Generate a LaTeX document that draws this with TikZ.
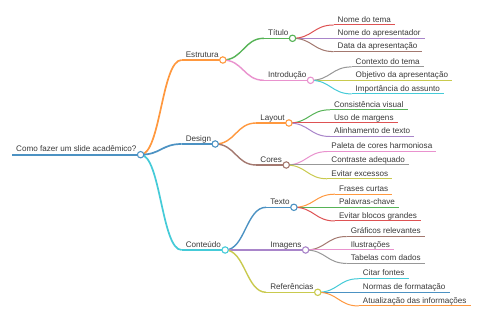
\documentclass[tikz,border=0pt]{standalone}
\usepackage{fontspec}
\setmainfont{Liberation Sans}
\usetikzlibrary{calc}
\definecolor{k0}{HTML}{1F77B4}
\definecolor{k1}{HTML}{FF7F0E}
\definecolor{k2}{HTML}{2CA02C}
\definecolor{k3}{HTML}{D62728}
\definecolor{k4}{HTML}{9467BD}
\definecolor{k5}{HTML}{8C564B}
\definecolor{k6}{HTML}{E377C2}
\definecolor{k7}{HTML}{7F7F7F}
\definecolor{k8}{HTML}{BCBD22}
\definecolor{k9}{HTML}{17BECF}
\definecolor{txt}{HTML}{3A3A3A}
\tikzset{
  lbl/.style={inner xsep=4pt, inner ysep=1pt, text=txt, font=\fontsize{8.1}{9}\selectfont, anchor=base west},
  dot/.style={circle, draw=#1!80!white, fill=white, line width=1.1pt, minimum size=6.4pt, inner sep=0pt},
}
\newcommand{\mmchild}[6]{%
  \node[lbl] (#1) at ($(#2-r)+(41,{#3-2.7})$) {#6};
  \coordinate (#1-l) at ([yshift=-2.7pt]#1.base west);
  \coordinate (#1-r) at ([yshift=-2.7pt]#1.base east);
  \draw[#4!80!white, line width=#5] (#1-l) -- (#1-r);
  \draw[#4!80!white, line width=#5] (#2-r) .. controls +(20,0) and +(-20,0) .. (#1-l);
}
\begin{document}
\begin{tikzpicture}[x=1pt,y=-1pt]
\fill[white] (0,0) rectangle (480,320);
\useasboundingbox (0,0) rectangle (480,320);
% root
\node[lbl] (root) at (12,152) {Como fazer um slide acadêmico?};
\coordinate (root-l) at ([yshift=-2.7pt]root.base west);
\coordinate (root-r) at ([yshift=-2.7pt]root.base east);
\draw[k0!80!white, line width=2pt] (root-l) -- (root-r);
% level 1
\mmchild{est}{root}{-94.7}{k1}{1.7pt}{Estrutura}
\mmchild{des}{root}{-10.7}{k0}{1.7pt}{Design}
\mmchild{con}{root}{95.3}{k9}{1.7pt}{Conteúdo}
% level 2
\mmchild{tit}{est}{-21.7}{k2}{1.4pt}{Título}
\mmchild{int}{est}{20.3}{k6}{1.4pt}{Introdução}
\mmchild{lay}{des}{-21}{k1}{1.4pt}{Layout}
\mmchild{cor}{des}{21}{k5}{1.4pt}{Cores}
\mmchild{tex}{con}{-42.7}{k0}{1.4pt}{Texto}
\mmchild{ima}{con}{0}{k4}{1.4pt}{Imagens}
\mmchild{ref}{con}{42.3}{k8}{1.4pt}{Referências}
% leaves
\mmchild{t1}{tit}{-13.3}{k3}{1pt}{Nome do tema}
\mmchild{t2}{tit}{0}{k4}{1pt}{Nome do apresentador}
\mmchild{t3}{tit}{13.3}{k5}{1pt}{Data da apresentação}
\mmchild{i1}{int}{-13.4}{k7}{1pt}{Contexto do tema}
\mmchild{i2}{int}{0}{k8}{1pt}{Objetivo da apresentação}
\mmchild{i3}{int}{13.6}{k9}{1pt}{Importância do assunto}
\mmchild{l1}{lay}{-13.2}{k2}{1pt}{Consistência visual}
\mmchild{l2}{lay}{0}{k3}{1pt}{Uso de margens}
\mmchild{l3}{lay}{13.5}{k4}{1pt}{Alinhamento de texto}
\mmchild{c1}{cor}{-13.4}{k6}{1pt}{Paleta de cores harmoniosa}
\mmchild{c2}{cor}{0}{k7}{1pt}{Contraste adequado}
\mmchild{c3}{cor}{13.8}{k8}{1pt}{Evitar excessos}
\mmchild{x1}{tex}{-13.1}{k1}{1pt}{Frases curtas}
\mmchild{x2}{tex}{0}{k2}{1pt}{Palavras-chave}
\mmchild{x3}{tex}{13.7}{k3}{1pt}{Evitar blocos grandes}
\mmchild{m1}{ima}{-13.5}{k5}{1pt}{Gráficos relevantes}
\mmchild{m2}{ima}{0}{k6}{1pt}{Ilustrações}
\mmchild{m3}{ima}{13.4}{k7}{1pt}{Tabelas com dados}
\mmchild{r1}{ref}{-13.6}{k9}{1pt}{Citar fontes}
\mmchild{r2}{ref}{0}{k0}{1pt}{Normas de formatação}
\mmchild{r3}{ref}{13.7}{k1}{1pt}{Atualização das informações}
% circles
\node[dot=k0] (root-c) at (root-r) {};
\node[dot=k1] (est-c) at (est-r) {};
\node[dot=k0] (des-c) at (des-r) {};
\node[dot=k9] (con-c) at (con-r) {};
\node[dot=k2] (tit-c) at (tit-r) {};
\node[dot=k6] (int-c) at (int-r) {};
\node[dot=k1] (lay-c) at (lay-r) {};
\node[dot=k5] (cor-c) at (cor-r) {};
\node[dot=k0] (tex-c) at (tex-r) {};
\node[dot=k4] (ima-c) at (ima-r) {};
\node[dot=k8] (ref-c) at (ref-r) {};
\end{tikzpicture}
\end{document}
